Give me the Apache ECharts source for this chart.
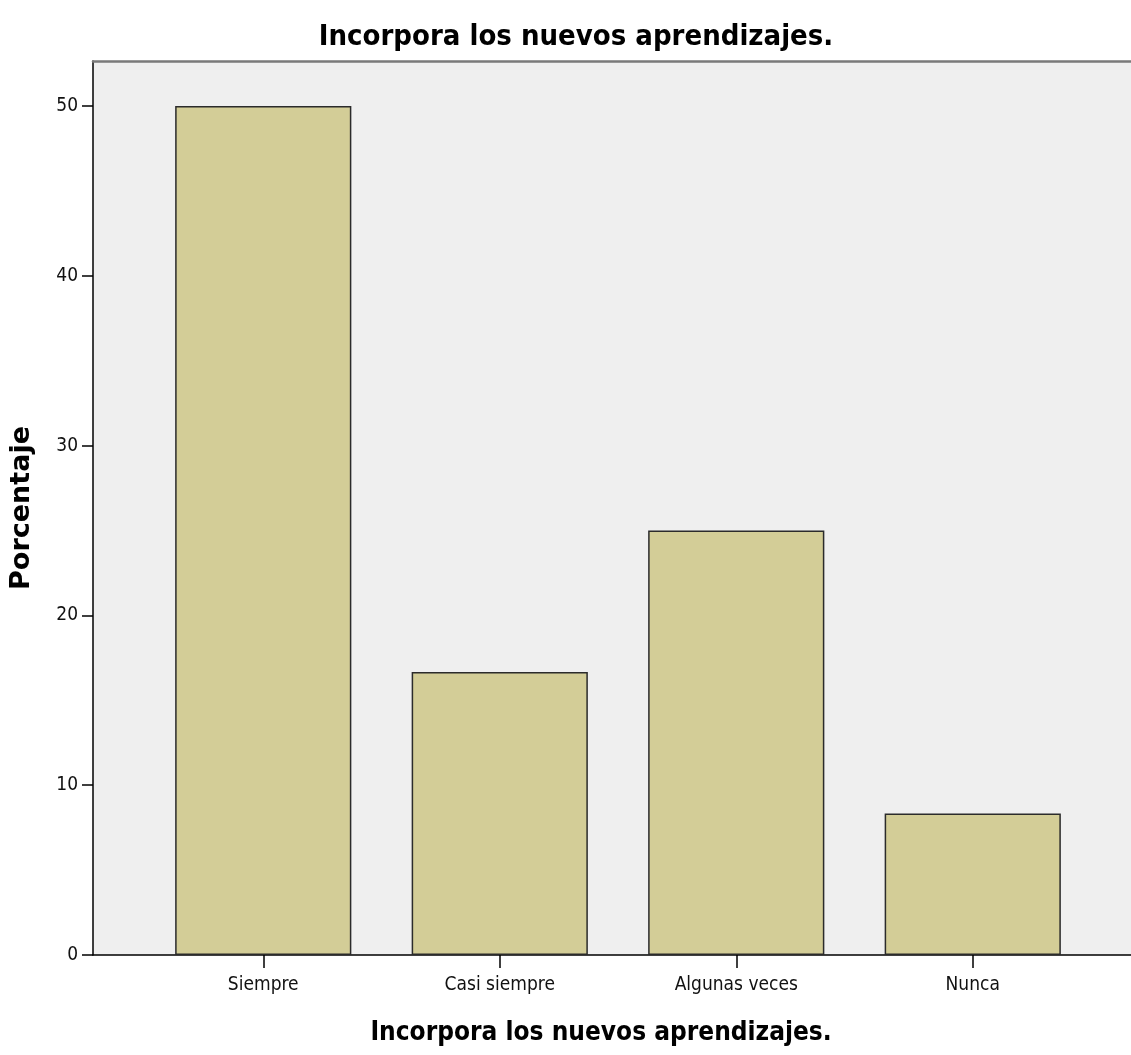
<!DOCTYPE html>
<html><head><meta charset="utf-8">
<script src="https://cdn.jsdelivr.net/npm/echarts@6/dist/echarts.min.js"></script>
<style>html,body{margin:0;padding:0;background:#fff}#c{width:1131px;height:1055px}</style>
</head><body><div id="c"></div>
<script>
const chartTitle = 'Incorpora los nuevos aprendizajes.';
const categories = ['Siempre', 'Casi siempre', 'Algunas veces', 'Nunca'];
const percentages = [50.0, 16.67, 25.0, 8.33];
const yAxisName = 'Porcentaje';
const xAxisName = 'Incorpora los nuevos aprendizajes.';

const narrow = "'Liberation Sans Narrow', 'Arial Narrow', 'DejaVu Sans Condensed', sans-serif";
const condensed = "'DejaVu Sans Condensed', 'DejaVu Sans', sans-serif";
const wide = "'DejaVu Sans', sans-serif";
const yMax = 52.65;

const chart = echarts.init(document.getElementById('c'));
chart.setOption({
  animation: false,
  backgroundColor: '#ffffff',
  title: {
    text: chartTitle, left: 571, top: 18, textAlign: 'center',
    textStyle: { fontFamily: narrow, fontWeight: 'bold', fontSize: 29, color: '#000' }
  },
  grid: [
    { left: 93, top: 61, right: 0, bottom: 100, show: true, backgroundColor: '#efefef', borderWidth: 0, outerBoundsMode: 'none', containLabel: false },
    { left: 145, top: 61, width: 946, bottom: 100, outerBoundsMode: 'none', containLabel: false }
  ],
  xAxis: [
    { type: 'value', gridIndex: 0, min: 0, max: 1, position: 'bottom',
      axisLine: { show: true, onZero: false, lineStyle: { color: '#000', width: 1.5 } },
      axisTick: { show: false }, axisLabel: { show: false }, splitLine: { show: false } },
    { type: 'value', gridIndex: 0, min: 0, max: 1, position: 'top',
      axisLine: { show: true, onZero: false, lineStyle: { color: '#7a7a7a', width: 2.5 } },
      axisTick: { show: false }, axisLabel: { show: false }, splitLine: { show: false } },
    { type: 'category', gridIndex: 1, data: categories, position: 'bottom',
      axisLine: { show: false, onZero: false },
      axisTick: { show: true, alignWithLabel: true, length: 13, lineStyle: { color: '#000', width: 1.5 } },
      axisLabel: { fontFamily: narrow, fontSize: 19, color: '#111', margin: 21 },
      name: xAxisName, nameLocation: 'middle', nameGap: 65,
      nameTextStyle: { fontFamily: condensed, fontWeight: 'bold', fontSize: 26, color: '#000', padding: [0, 34, 0, 0] } }
  ],
  yAxis: [
    { type: 'value', gridIndex: 0, min: 0, max: yMax, interval: 10,
      axisLine: { show: true, lineStyle: { color: '#000', width: 1.5 } },
      axisTick: { show: true, length: 11, lineStyle: { color: '#000', width: 1.5 } },
      axisLabel: { fontFamily: narrow, fontSize: 19, color: '#111', margin: 15, showMaxLabel: false },
      splitLine: { show: false },
      name: yAxisName, nameLocation: 'middle', nameGap: 58,
      nameTextStyle: { fontFamily: wide, fontWeight: 'bold', fontSize: 27, color: '#000' } },
    { type: 'value', gridIndex: 1, min: 0, max: yMax, show: false }
  ],
  series: [{
    type: 'bar', xAxisIndex: 2, yAxisIndex: 1, data: percentages,
    barCategoryGap: '25.5%',
    itemStyle: { color: '#d3cd97', borderColor: '#2b2b2b', borderWidth: 1.5 }
  }]
});
</script></body></html>
